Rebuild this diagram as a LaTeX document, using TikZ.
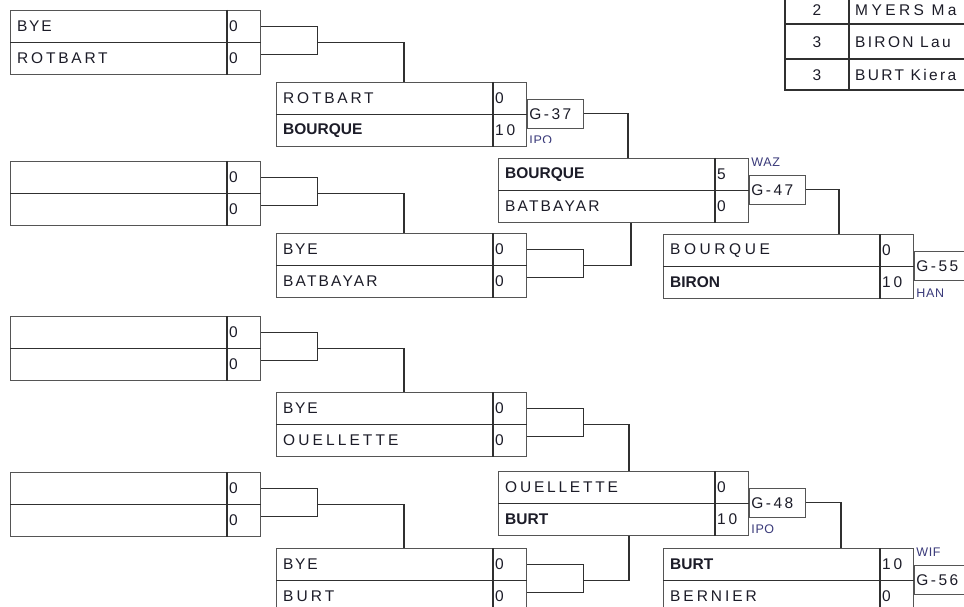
\documentclass[tikz,border=0pt]{standalone}
\usepackage{fontspec}
\setmainfont{Liberation Sans}
\newcommand{\ls}[2]{{\addfontfeatures{LetterSpace=#1}#2}}
\definecolor{boxc}{HTML}{555555}
\definecolor{innc}{HTML}{303030}
\definecolor{txtc}{HTML}{1C1C28}
\definecolor{labc}{HTML}{3A3A7A}
\newcommand{\match}[7]{%
  \node[mbox] (#1) at (#2,#3) {};
  \draw[inner] ([xshift=217pt]#1.north west) -- ([xshift=217pt]#1.south west);
  \draw[inner] (#1.west) -- (#1.east);
  \node[nm] (#1a) at ([xshift=7pt,yshift=16pt]#1.west) {#4};
  \node[nm] (#1b) at ([xshift=7pt,yshift=-16pt]#1.west) {#5};
  \node[nm] (#1s) at ([xshift=219pt,yshift=16pt]#1.west) {#6};
  \node[nm] (#1t) at ([xshift=219pt,yshift=-16pt]#1.west) {#7};
}
\newcommand{\bracket}[1]{%
  \draw[conn] ([yshift=16pt]#1.east) -- ++(56,0) -- ++(0,28) -- ++(-56,0);
  \coordinate (#1j) at ([xshift=56pt]#1.east);
}
\newcommand{\gbox}[3]{% id of match, node name, text
  \node[gb] (#2) at ([yshift=16pt]#1.east) {};
  \node[nm] (#2t) at ([xshift=2pt]#2.west) {\ls{16}{#3}};
}
\begin{document}
\begin{tikzpicture}[x=1pt,y=-1pt,
  mbox/.style={draw=boxc, line width=1.2pt, minimum width=250pt, minimum height=64pt, inner sep=0pt, anchor=north west},
  inner/.style={draw=innc, line width=1.2pt},
  conn/.style={draw=innc, line width=1.2pt},
  nm/.style={anchor=west, inner sep=0pt, text=txtc, font=\fontsize{15.5}{18}\selectfont},
  gb/.style={draw=boxc, line width=1.2pt, minimum width=56pt, minimum height=29pt, inner sep=0pt, anchor=north west},
  lab/.style={anchor=west, inner sep=0pt, text=labc, font=\fontsize{12.5}{14}\selectfont\addfontfeatures{LetterSpace=5}}]
\useasboundingbox (0,0) rectangle (964,607);
\fill[white] (0,0) rectangle (964,607);

% round 1
\match{A}{10}{10}{\ls{11}{BYE}}{\ls{18}{ROTBART}}{0}{0}
\match{B}{10}{161}{}{}{0}{0}
\match{C}{10}{316}{}{}{0}{0}
\match{D}{10}{472}{}{}{0}{0}
% round 2
\match{E}{276}{82}{\ls{18}{ROTBART}}{\textbf{BOURQUE}}{0}{\ls{18}{10}}
\match{F}{276}{233}{\ls{11}{BYE}}{\ls{14}{BATBAYAR}}{0}{0}
\match{G}{276}{392}{\ls{11}{BYE}}{\ls{20}{OUELLETTE}}{0}{0}
\match{H}{276}{548}{\ls{11}{BYE}}{\ls{20}{BURT}}{0}{0}
% round 3
\match{I}{498}{158}{\textbf{BOURQUE}}{\ls{14}{BATBAYAR}}{5}{0}
\match{J}{498}{471}{\ls{18}{OUELLETTE}}{\textbf{BURT}}{0}{\ls{18}{10}}
% round 4
\match{K}{663}{234}{\ls{23}{BOURQUE}}{\textbf{BIRON}}{0}{\ls{18}{10}}
\match{L}{663}{548}{\textbf{BURT}}{\ls{19}{BERNIER}}{\ls{18}{10}}{0}

% brackets
\bracket{A}\bracket{B}\bracket{C}\bracket{D}
\bracket{F}\bracket{G}\bracket{H}
% game boxes
\gbox{E}{G37}{G-37}
\gbox{I}{G47}{G-47}
\gbox{J}{G48}{G-48}
\gbox{K}{G55}{G-55}
\gbox{L}{G56}{G-56}

% connectors
\draw[conn] (Aj) -| ([xshift=128pt]E.north west);
\draw[conn] (Bj) -| ([xshift=128pt]F.north west);
\draw[conn] (Cj) -| ([xshift=128pt]G.north west);
\draw[conn] (Dj) -| ([xshift=128pt]H.north west);
\draw[conn] (G37.east) -| ([xshift=130pt]I.north west);
\draw[conn] (Fj) -| ([xshift=133pt]I.south west);
\draw[conn] (Gj) -| ([xshift=131pt]J.north west);
\draw[conn] (Hj) -| ([xshift=131pt]J.south west);
\draw[conn] (G47.east) -| ([xshift=176pt]K.north west);
\draw[conn] (G48.east) -| ([xshift=178pt]L.north west);

% small labels
\begin{scope}
  \clip (520,128) rectangle (600,142.5);
  \node[lab] (ipo1) at ([xshift=2pt,yshift=-11pt]G37.south west) {IPO};
\end{scope}
\node[lab] (waz) at ([xshift=2pt,yshift=12pt]G47.north west) {WAZ};
\node[lab] (ipo2) at ([xshift=2pt,yshift=-11pt]G48.south west) {IPO};
\node[lab] (han) at ([xshift=2pt,yshift=-12pt]G55.south west) {HAN};
\node[lab] (wif) at ([xshift=2pt,yshift=12pt]G56.north west) {WIF};

% standings table
\draw[draw=innc, line width=2pt] (785,-5) -- (785,90) -- (970,90);
\draw[inner] (849,-5) -- (849,90);
\draw[inner] (785,24) -- (970,24);
\draw[inner] (785,59) -- (970,59);
\node[nm, anchor=center] (r1) at (817,10) {2};
\node[nm, anchor=center] (r2) at (817,42) {3};
\node[nm, anchor=center] (r3) at (817,75) {3};
\node[nm] (n1) at (855,10) {\ls{22}{MYERS Ma}};
\node[nm] (n2) at (855,42) {\ls{15}{BIRON Lau}};
\node[nm] (n3) at (855,75) {\ls{15}{BURT Kiera}};
\end{tikzpicture}
\end{document}
